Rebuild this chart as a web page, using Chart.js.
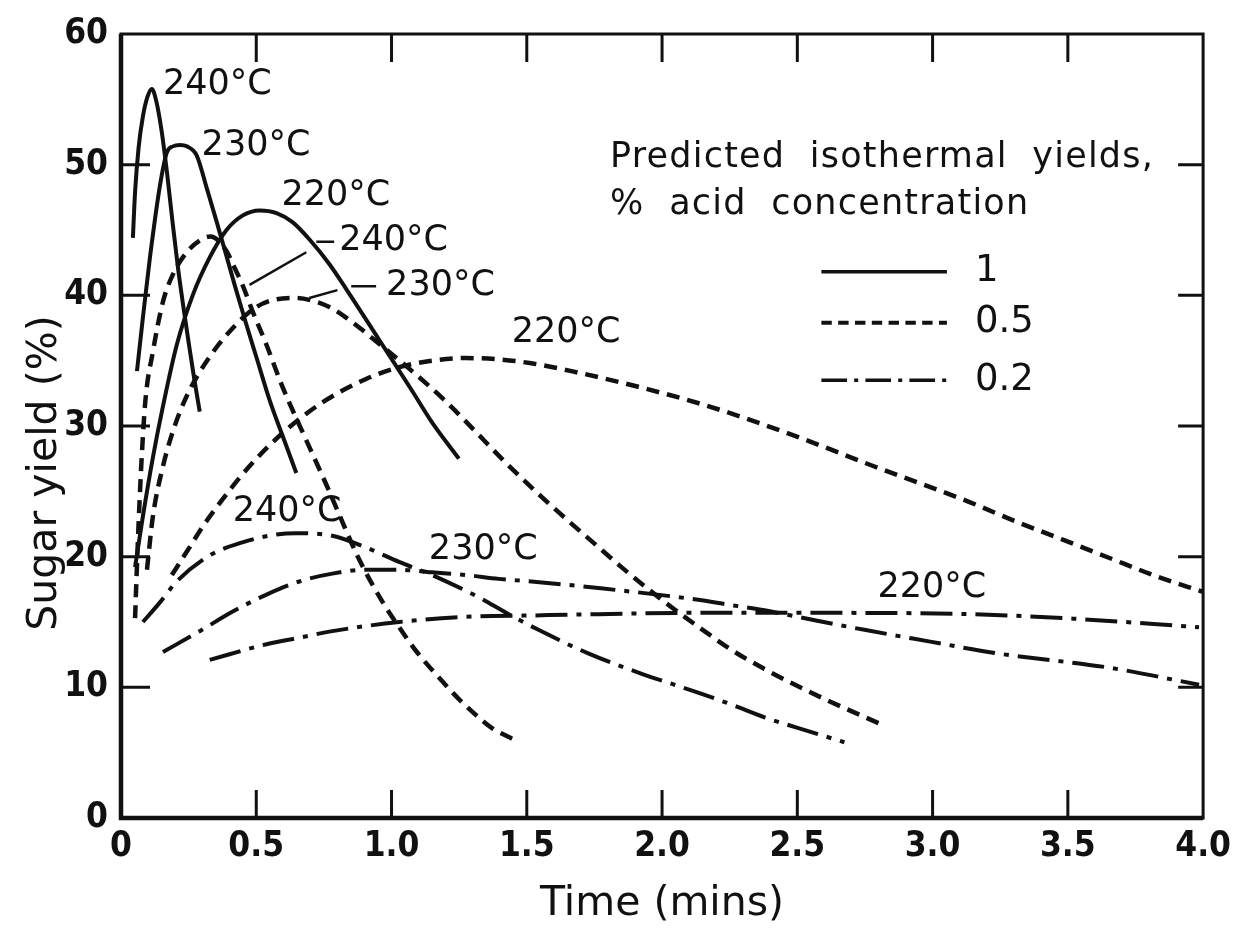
<!DOCTYPE html>
<html>
<head>
<meta charset="utf-8">
<script src="https://cdn.jsdelivr.net/npm/chart.js@4.4.1/dist/chart.umd.min.js"></script>
<style>
  html, body { margin: 0; padding: 0; background: #fff; }
  #wrap { width: 1239px; height: 931px; }
</style>
</head>
<body>
<div id="wrap"><canvas id="yieldChart" width="1239" height="931"></canvas></div>
<script>
// Predicted isothermal sugar yields vs time, three acid concentrations x three temperatures.

// 1 % acid (solid)
const t240Acid1 = [0.044, 0.052, 0.065, 0.081, 0.098, 0.114, 0.13, 0.15, 0.17, 0.19, 0.21, 0.23, 0.25, 0.27, 0.291];
const y240Acid1 = [44.4, 47.9, 51.3, 53.7, 55.2, 55.8, 54.9, 52.6, 49.4, 45.7, 42.2, 39.2, 36.4, 33.7, 31.1];
const t230Acid1 = [0.059, 0.081, 0.107, 0.144, 0.169, 0.192, 0.218, 0.243, 0.28, 0.317, 0.354, 0.39, 0.42, 0.46, 0.5, 0.549, 0.6, 0.648];
const y230Acid1 = [34.2, 38.3, 42.9, 48.4, 50.9, 51.4, 51.5, 51.4, 50.7, 48.2, 45.6, 43.0, 40.8, 38.0, 35.3, 32.0, 29.1, 26.4];
const t220Acid1 = [0.052, 0.081, 0.118, 0.155, 0.206, 0.265, 0.328, 0.39, 0.449, 0.512, 0.575, 0.634, 0.70, 0.77, 0.832, 0.954, 1.076, 1.149, 1.249];
const y220Acid1 = [19.2, 23.1, 27.6, 31.5, 36.2, 40.0, 42.9, 45.0, 46.1, 46.5, 46.3, 45.6, 44.2, 42.4, 40.5, 36.6, 32.7, 30.3, 27.5];

// 0.5 % acid (dashed)
const t240Acid05 = [0.052, 0.063, 0.075, 0.09, 0.118, 0.155, 0.192, 0.243, 0.291, 0.33, 0.39, 0.413, 0.449, 0.486, 0.538, 0.597, 0.696, 0.77, 0.807, 0.88, 0.965, 1.028, 1.09, 1.186, 1.249, 1.311, 1.37, 1.462];
const y240Acid05 = [15.3, 21.5, 27.0, 31.9, 35.7, 39.5, 41.6, 43.3, 44.2, 44.5, 43.4, 42.4, 40.8, 38.8, 36.2, 33.0, 28.4, 25.0, 23.2, 19.8, 16.6, 14.6, 12.8, 10.5, 9.1, 7.9, 6.9, 5.9];
const t230Acid05 = [0.096, 0.118, 0.155, 0.192, 0.243, 0.328, 0.427, 0.5, 0.575, 0.648, 0.722, 0.77, 0.832, 0.954, 1.076, 1.2, 1.3, 1.422, 1.543, 1.65, 1.75, 1.85, 1.95, 2.05, 2.15, 2.254, 2.379, 2.501, 2.622, 2.807];
const y230Acid05 = [19.0, 23.1, 26.9, 29.6, 32.3, 35.3, 37.8, 39.1, 39.7, 39.8, 39.5, 39.1, 38.3, 36.3, 34.2, 31.9, 29.8, 27.2, 24.8, 22.8, 21.0, 19.2, 17.5, 15.9, 14.4, 12.9, 11.4, 10.1, 8.9, 7.2];
const t220Acid05 = [0.188, 0.25, 0.302, 0.376, 0.449, 0.538, 0.622, 0.744, 0.906, 1.028, 1.149, 1.274, 1.396, 1.517, 1.665, 1.912, 2.158, 2.471, 2.785, 3.134, 3.307, 3.481, 3.654, 3.827, 4.0];
const y220Acid05 = [18.6, 20.6, 22.3, 24.4, 26.3, 28.3, 29.9, 31.8, 33.6, 34.5, 35.0, 35.2, 35.1, 34.8, 34.2, 33.0, 31.6, 29.4, 26.9, 24.2, 22.7, 21.3, 19.9, 18.5, 17.3];

// 0.2 % acid (dash-dot)
const t240Acid02 = [0.081, 0.144, 0.206, 0.328, 0.449, 0.575, 0.648, 0.781, 0.906, 1.028, 1.149, 1.274, 1.322, 1.433, 1.543, 1.727, 1.93, 2.133, 2.254, 2.379, 2.501, 2.674];
const y240Acid02 = [15.0, 16.5, 18.1, 20.1, 21.1, 21.7, 21.8, 21.6, 20.7, 19.6, 18.6, 17.4, 16.9, 15.6, 14.4, 12.6, 11.0, 9.6, 8.7, 7.7, 6.9, 5.8];
const t230Acid02 = [0.155, 0.291, 0.413, 0.538, 0.659, 0.781, 0.906, 1.028, 1.149, 1.274, 1.396, 1.517, 1.764, 2.133, 2.254, 2.379, 2.501, 2.748, 2.991, 3.238, 3.654, 3.985];
const y230Acid02 = [12.7, 14.3, 15.8, 17.1, 18.1, 18.7, 19.0, 19.0, 18.8, 18.6, 18.3, 18.1, 17.6, 16.7, 16.3, 15.9, 15.4, 14.4, 13.5, 12.6, 11.5, 10.2];
const t220Acid02 = [0.328, 0.538, 0.659, 0.781, 1.028, 1.274, 1.517, 1.764, 2.092, 2.611, 3.134, 3.481, 3.985];
const y220Acid02 = [12.1, 13.3, 13.8, 14.3, 15.0, 15.4, 15.5, 15.6, 15.7, 15.7, 15.6, 15.3, 14.6];

const acidLevels = ['1', '0.5', '0.2'];
const curveLabels = ['240°C', '230°C', '220°C', '240°C', '230°C', '220°C', '240°C', '230°C', '220°C'];
const legendTitle = ['Predicted isothermal yields,', '% acid concentration'];
const xTitle = 'Time (mins)';
const yTitle = 'Sugar yield (%)';

const INK = '#111';
const TEXT_FONT = '"DejaVu Sans", sans-serif';
const NUM_FONT = '"DejaVu Sans Condensed", "DejaVu Sans", sans-serif';
const LINE_STYLE = {
    '1':   { dash: [], width: 4 },
    '0.5': { dash: [13, 8], width: 4.5 },
    '0.2': { dash: [32, 9, 5, 9], width: 4 },
};

const pts = (xs, ys) => xs.map((x, i) => ({ x, y: ys[i] }));
const curves = [
    ['1', t240Acid1, y240Acid1], ['1', t230Acid1, y230Acid1], ['1', t220Acid1, y220Acid1],
    ['0.5', t240Acid05, y240Acid05], ['0.5', t230Acid05, y230Acid05], ['0.5', t220Acid05, y220Acid05],
    ['0.2', t240Acid02, y240Acid02], ['0.2', t230Acid02, y230Acid02], ['0.2', t220Acid02, y220Acid02],
];

const datasets = curves.map(([acid, xs, ys], i) => ({
    label: `${acid}% ${curveLabels[i]}`,
    data: pts(xs, ys),
    showLine: true,
    borderColor: INK,
    borderWidth: LINE_STYLE[acid].width,
    borderDash: LINE_STYLE[acid].dash,
    pointRadius: 0,
    cubicInterpolationMode: 'monotone',
    fill: false,
}));

// label anchors in data units (left edge, vertical middle)
const labelSpots = [
    [0.155, 56.1], [0.298, 51.4], [0.593, 47.6],
    [0.807, 44.2], [0.980, 40.7], [1.444, 37.1],
    [0.413, 23.4], [1.138, 20.5], [2.796, 17.6],
];
const leaderLines = [
    [0.475, 40.8, 0.685, 43.3], [0.722, 44.1, 0.788, 44.1],
    [0.696, 39.8, 0.800, 40.4], [0.851, 40.7, 0.943, 40.7],
];

const framePlugin = {
    id: 'frame',
    afterDraw(chart) {
        const { ctx, chartArea: a, scales: { x, y } } = chart;
        ctx.save();
        ctx.strokeStyle = INK;
        ctx.lineCap = 'butt';
        ctx.lineWidth = 3;
        ctx.strokeRect(a.left, a.top, a.right - a.left, a.bottom - a.top);
        ctx.lineWidth = 4.5;
        ctx.beginPath();
        ctx.moveTo(a.left, a.top); ctx.lineTo(a.left, a.bottom); ctx.lineTo(a.right, a.bottom);
        ctx.stroke();
        ctx.lineWidth = 3;
        ctx.beginPath();
        x.ticks.forEach(t => {
            if (t.value <= x.min || t.value >= x.max) return;
            const px = x.getPixelForValue(t.value);
            ctx.moveTo(px, a.bottom); ctx.lineTo(px, a.bottom - 28);
            ctx.moveTo(px, a.top); ctx.lineTo(px, a.top + 28);
        });
        y.ticks.forEach(t => {
            if (t.value <= y.min || t.value >= y.max) return;
            const py = y.getPixelForValue(t.value);
            ctx.moveTo(a.left, py); ctx.lineTo(a.left + 29, py);
            ctx.moveTo(a.right, py); ctx.lineTo(a.right - 25, py);
        });
        ctx.stroke();
        ctx.restore();
    },
};

const notesPlugin = {
    id: 'notes',
    afterDraw(chart) {
        const { ctx, scales: { x, y } } = chart;
        const X = v => x.getPixelForValue(v);
        const Y = v => y.getPixelForValue(v);
        ctx.save();
        ctx.fillStyle = INK;
        ctx.strokeStyle = INK;

        // curve labels
        ctx.font = `35px ${TEXT_FONT}`;
        ctx.textAlign = 'left';
        ctx.textBaseline = 'middle';
        curveLabels.forEach((txt, i) => ctx.fillText(txt, X(labelSpots[i][0]), Y(labelSpots[i][1])));

        ctx.lineWidth = 2.5;
        ctx.beginPath();
        leaderLines.forEach(([x1, y1, x2, y2]) => { ctx.moveTo(X(x1), Y(y1)); ctx.lineTo(X(x2), Y(y2)); });
        ctx.stroke();

        // legend block
        ctx.font = `35px ${TEXT_FONT}`;
        ctx.letterSpacing = '1.2px';
        ctx.fillText(legendTitle[0].replace(/ /g, '  '), X(1.808), Y(50.5));
        ctx.fillText(legendTitle[1].replace(/ /g, '  '), X(1.808), Y(46.9));
        ctx.letterSpacing = '0px';
        ctx.font = `37px ${TEXT_FONT}`;
        const rowY = [41.8, 37.9, 33.5];
        acidLevels.forEach((lvl, i) => {
            const st = LINE_STYLE[lvl];
            ctx.lineWidth = st.width - 0.5;
            ctx.setLineDash(st.dash.length ? st.dash.map(d => d * 0.8) : []);
            ctx.beginPath();
            ctx.moveTo(X(2.589), Y(rowY[i])); ctx.lineTo(X(3.053), Y(rowY[i]));
            ctx.stroke();
            ctx.setLineDash([]);
            ctx.fillText(lvl, X(3.157), Y(rowY[i]));
        });

        // y axis title, drawn here so it can sit a little below the axis middle
        ctx.font = `41px ${TEXT_FONT}`;
        ctx.textAlign = 'center';
        ctx.translate(45, Y(26.4));
        ctx.rotate(-Math.PI / 2);
        ctx.fillText(yTitle, 0, 0);
        ctx.restore();
    },
};

new Chart(document.getElementById('yieldChart'), {
    type: 'scatter',
    data: { datasets },
    options: {
        responsive: false,
        animation: false,
        layout: { padding: { top: 20, right: 30, left: 0, bottom: 0 } },
        plugins: { legend: { display: false }, tooltip: { enabled: false } },
        scales: {
            x: {
                type: 'linear', min: 0, max: 4,
                grid: { display: false, drawTicks: false },
                border: { display: false },
                ticks: {
                    stepSize: 0.5, autoSkip: false, maxRotation: 0, padding: 8, color: INK,
                    font: { family: NUM_FONT, size: 35, weight: 'bold' },
                    callback: v => (v === 0 ? '0' : v.toFixed(1)),
                },
                title: {
                    display: true, text: xTitle, color: INK,
                    font: { family: TEXT_FONT, size: 41 }, padding: { top: 0, bottom: 2 },
                },
                afterFit(s) { s.height = 113; },
            },
            y: {
                type: 'linear', min: 0, max: 60,
                grid: { display: false, drawTicks: false },
                border: { display: false },
                ticks: {
                    stepSize: 10, autoSkip: false, padding: 13, color: INK,
                    font: { family: NUM_FONT, size: 35, weight: 'bold' },
                },
                afterFit(s) { s.width = 121; },
            },
        },
    },
    plugins: [framePlugin, notesPlugin],
});
</script>
</body>
</html>
